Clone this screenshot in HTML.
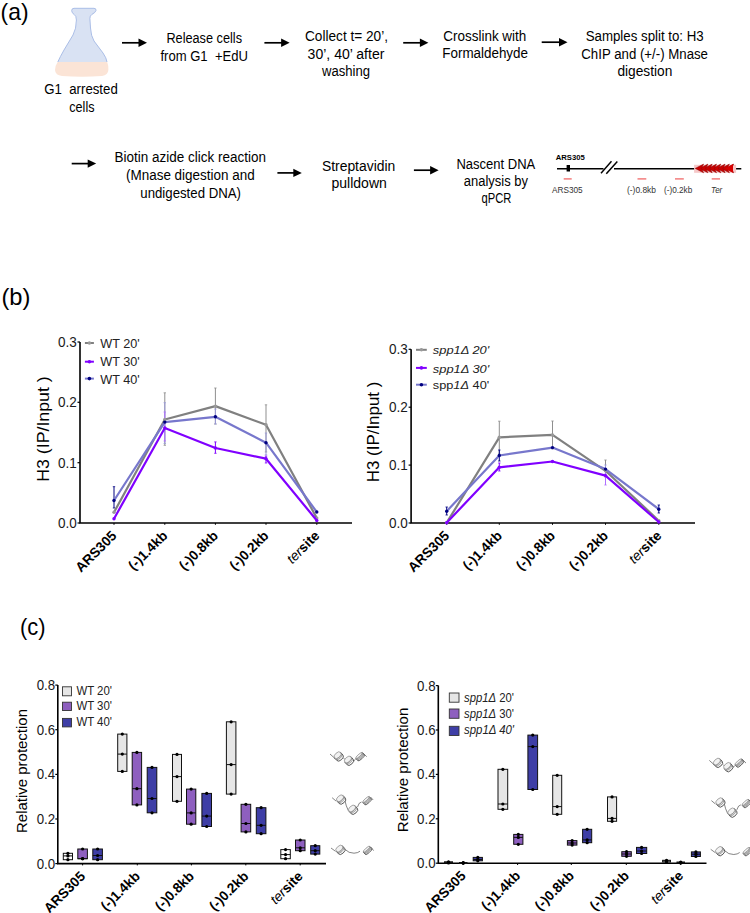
<!DOCTYPE html>
<html><head><meta charset="utf-8"><style>
html,body{margin:0;padding:0;background:#fff;}
svg{display:block;font-family:"Liberation Sans", sans-serif;}
</style></head><body>
<svg width="750" height="913" viewBox="0 0 750 913">
<text x="0.6" y="20.2" font-size="24" textLength="28" lengthAdjust="spacingAndGlyphs" fill="#000">(a)</text>
<path d="M74 8.3 L94 8.3 Q96.3 8.3 96 10.5 Q95.5 12.5 91.8 14.5 Q89.8 15.7 89.9 18.5 L90.5 28 Q91 36 94 41 L103 53 Q106.5 58 107 62 L57.8 62 Q60 57 64 50 L73 35 Q76.3 29 76.4 20 Q76.4 15.7 74 14.3 Q71.5 12.7 71.7 10.5 Q71.8 8.3 74 8.3 Z" fill="#d9e2f3"/>
<path d="M107 62 Q106.5 58 103 53 L94 41 Q91 36 90.5 28 L89.9 18.5 Q89.8 15.7 91.8 14.5 Q95.5 12.5 96 10.5 Q96.3 8.3 94 8.3 L74 8.3 Q71.8 8.3 71.7 10.5 Q71.5 12.7 74 14.3 Q76.4 15.7 76.4 20 Q76.3 29 73 35 L64 50 Q60 57 57.8 62" fill="none" stroke="#a3b8e4" stroke-width="0.9"/>
<path d="M57.6 62 L107.2 62 Q108.7 66 108.4 70 Q108 75 102 76 Q82 77.6 62 76 Q55.3 75.3 55 70 Q55 66 57.6 62 Z" fill="#fbe4d6"/>
<text x="44.2" y="93.6" font-size="14" textLength="73.6" lengthAdjust="spacingAndGlyphs" fill="#000">G1&#160;&#160;arrested</text>
<text x="69.3" y="111.5" font-size="14" textLength="25.2" lengthAdjust="spacingAndGlyphs" fill="#000">cells</text>
<text x="166.4" y="43.3" font-size="14" textLength="75.6" lengthAdjust="spacingAndGlyphs" fill="#000">Release cells</text>
<text x="160.4" y="60.8" font-size="14" textLength="87.6" lengthAdjust="spacingAndGlyphs" fill="#000">from G1&#160;&#160;+EdU</text>
<text x="305" y="41" font-size="14" textLength="83" lengthAdjust="spacingAndGlyphs" fill="#000">Collect t= 20’,</text>
<text x="307.6" y="58.9" font-size="14" textLength="76.8" lengthAdjust="spacingAndGlyphs" fill="#000">30’, 40’ after</text>
<text x="322" y="75.7" font-size="14" textLength="48" lengthAdjust="spacingAndGlyphs" fill="#000">washing</text>
<text x="443.3" y="41" font-size="14" textLength="83.0" lengthAdjust="spacingAndGlyphs" fill="#000">Crosslink with</text>
<text x="442.3" y="58.4" font-size="14" textLength="85.7" lengthAdjust="spacingAndGlyphs" fill="#000">Formaldehyde</text>
<text x="585.7" y="41.1" font-size="14" textLength="118.0" lengthAdjust="spacingAndGlyphs" fill="#000">Samples split to: H3</text>
<text x="581.3" y="59" font-size="14" textLength="126.7" lengthAdjust="spacingAndGlyphs" fill="#000">ChIP and (+/-) Mnase</text>
<text x="617.4" y="75.7" font-size="14" textLength="54.9" lengthAdjust="spacingAndGlyphs" fill="#000">digestion</text>
<text x="114.6" y="162" font-size="14" textLength="151.4" lengthAdjust="spacingAndGlyphs" fill="#000">Biotin azide click reaction</text>
<text x="126" y="179.9" font-size="14" textLength="128.7" lengthAdjust="spacingAndGlyphs" fill="#000">(Mnase digestion and</text>
<text x="140.3" y="197.7" font-size="14" textLength="100.7" lengthAdjust="spacingAndGlyphs" fill="#000">undigested DNA)</text>
<text x="321.9" y="171" font-size="14" textLength="73.4" lengthAdjust="spacingAndGlyphs" fill="#000">Streptavidin</text>
<text x="331.5" y="188.3" font-size="14" textLength="55.3" lengthAdjust="spacingAndGlyphs" fill="#000">pulldown</text>
<text x="456.4" y="169" font-size="14" textLength="78.9" lengthAdjust="spacingAndGlyphs" fill="#000">Nascent DNA</text>
<text x="463.8" y="185.6" font-size="14" textLength="64.2" lengthAdjust="spacingAndGlyphs" fill="#000">analysis by</text>
<text x="481.6" y="202.6" font-size="14" textLength="29.8" lengthAdjust="spacingAndGlyphs" fill="#000">qPCR</text>
<line x1="122" y1="42.8" x2="140" y2="42.8" stroke="#000" stroke-width="1.7"/>
<path d="M138.5 38.599999999999994 L147 42.8 L138.5 47.0 Z" fill="#000"/>
<line x1="264.4" y1="42.8" x2="282.6" y2="42.8" stroke="#000" stroke-width="1.7"/>
<path d="M281.1 38.599999999999994 L289.6 42.8 L281.1 47.0 Z" fill="#000"/>
<line x1="403.2" y1="42.8" x2="421.4" y2="42.8" stroke="#000" stroke-width="1.7"/>
<path d="M419.9 38.599999999999994 L428.4 42.8 L419.9 47.0 Z" fill="#000"/>
<line x1="541.7" y1="42.2" x2="560.5" y2="42.2" stroke="#000" stroke-width="1.7"/>
<path d="M559.0 38.0 L567.5 42.2 L559.0 46.400000000000006 Z" fill="#000"/>
<line x1="71.7" y1="163.6" x2="89.2" y2="163.6" stroke="#000" stroke-width="1.7"/>
<path d="M87.7 159.4 L96.2 163.6 L87.7 167.79999999999998 Z" fill="#000"/>
<line x1="277.4" y1="172.9" x2="294.8" y2="172.9" stroke="#000" stroke-width="1.7"/>
<path d="M293.3 168.70000000000002 L301.8 172.9 L293.3 177.1 Z" fill="#000"/>
<line x1="413.9" y1="170.2" x2="431.6" y2="170.2" stroke="#000" stroke-width="1.7"/>
<path d="M430.1 166.0 L438.6 170.2 L430.1 174.39999999999998 Z" fill="#000"/>
<line x1="557" y1="168.7" x2="603.5" y2="168.7" stroke="#000" stroke-width="1.6"/>
<line x1="614" y1="168.7" x2="741.3" y2="168.7" stroke="#000" stroke-width="1.6"/>
<rect x="566.6" y="165" width="3.4" height="6.5" fill="#000"/>
<line x1="601" y1="173.2" x2="611.5" y2="161.3" stroke="#000" stroke-width="1.5"/>
<line x1="606.3" y1="173.8" x2="617.3" y2="161.6" stroke="#000" stroke-width="1.5"/>
<text x="555.7" y="160.2" font-size="7.2" font-weight="bold" textLength="29" lengthAdjust="spacingAndGlyphs" fill="#000">ARS305</text>
<rect x="694.1" y="164.8" width="42" height="8" fill="#f6c8c8"/>
<path d="M725.3 168.4 L733.7 164.1 L731.5 168.4 L733.7 172.8 Z" fill="#c80000" stroke="#8a0000" stroke-width="0.5" stroke-linejoin="round"/><path d="M721.0 168.4 L729.4 164.1 L727.2 168.4 L729.4 172.8 Z" fill="#c80000" stroke="#8a0000" stroke-width="0.5" stroke-linejoin="round"/><path d="M716.7 168.4 L725.1 164.1 L722.9 168.4 L725.1 172.8 Z" fill="#c80000" stroke="#8a0000" stroke-width="0.5" stroke-linejoin="round"/><path d="M712.4 168.4 L720.8 164.1 L718.6 168.4 L720.8 172.8 Z" fill="#c80000" stroke="#8a0000" stroke-width="0.5" stroke-linejoin="round"/><path d="M708.1 168.4 L716.5 164.1 L714.3 168.4 L716.5 172.8 Z" fill="#c80000" stroke="#8a0000" stroke-width="0.5" stroke-linejoin="round"/><path d="M703.8 168.4 L712.2 164.1 L710.0 168.4 L712.2 172.8 Z" fill="#c80000" stroke="#8a0000" stroke-width="0.5" stroke-linejoin="round"/><path d="M699.5 168.4 L707.9 164.1 L705.7 168.4 L707.9 172.8 Z" fill="#c80000" stroke="#8a0000" stroke-width="0.5" stroke-linejoin="round"/><path d="M695.2 168.4 L703.6 164.1 L701.4 168.4 L703.6 172.8 Z" fill="#c80000" stroke="#8a0000" stroke-width="0.5" stroke-linejoin="round"/>
<path d="M725.5 168.4 L733 164 L733 172.8 Z" fill="#d60000"/>
<line x1="563.7" y1="178.9" x2="571.7" y2="178.9" stroke="#f27474" stroke-width="1.4"/>
<line x1="637.5" y1="178.9" x2="646.3" y2="178.9" stroke="#f27474" stroke-width="1.4"/>
<line x1="675" y1="178.9" x2="683.8" y2="178.9" stroke="#f27474" stroke-width="1.4"/>
<line x1="711.7" y1="178.9" x2="720" y2="178.9" stroke="#f27474" stroke-width="1.4"/>
<text x="552" y="193" font-size="8.3" textLength="30.7" lengthAdjust="spacingAndGlyphs" fill="#333">ARS305</text>
<text x="627" y="193" font-size="8.3" textLength="29" lengthAdjust="spacingAndGlyphs" fill="#333">(-)0.8kb</text>
<text x="664" y="193" font-size="8.3" textLength="28.3" lengthAdjust="spacingAndGlyphs" fill="#333">(-)0.2kb</text>
<text x="711" y="193" font-size="8.3" font-style="italic" textLength="11.3" lengthAdjust="spacingAndGlyphs" fill="#333">Ter</text>
<text x="1.4" y="305.2" font-size="24" textLength="29" lengthAdjust="spacingAndGlyphs" fill="#000">(b)</text>
<path d="M80 342 L80 523 L352 523" fill="none" stroke="#000" stroke-width="1.6"/>
<line x1="77.5" y1="523.0" x2="80" y2="523.0" stroke="#000" stroke-width="1.2"/>
<text x="76.8" y="528.1" font-size="14.3" text-anchor="end" textLength="18.8" lengthAdjust="spacingAndGlyphs" fill="#1a1a1a">0.0</text>
<line x1="77.5" y1="462.7" x2="80" y2="462.7" stroke="#000" stroke-width="1.2"/>
<text x="76.8" y="467.8" font-size="14.3" text-anchor="end" textLength="18.8" lengthAdjust="spacingAndGlyphs" fill="#1a1a1a">0.1</text>
<line x1="77.5" y1="402.3" x2="80" y2="402.3" stroke="#000" stroke-width="1.2"/>
<text x="76.8" y="407.4" font-size="14.3" text-anchor="end" textLength="18.8" lengthAdjust="spacingAndGlyphs" fill="#1a1a1a">0.2</text>
<line x1="77.5" y1="342.0" x2="80" y2="342.0" stroke="#000" stroke-width="1.2"/>
<text x="76.8" y="347.1" font-size="14.3" text-anchor="end" textLength="18.8" lengthAdjust="spacingAndGlyphs" fill="#1a1a1a">0.3</text>
<line x1="114" y1="523" x2="114" y2="524.8" stroke="#000" stroke-width="1"/>
<line x1="164.8" y1="523" x2="164.8" y2="524.8" stroke="#000" stroke-width="1"/>
<line x1="215.4" y1="523" x2="215.4" y2="524.8" stroke="#000" stroke-width="1"/>
<line x1="266" y1="523" x2="266" y2="524.8" stroke="#000" stroke-width="1"/>
<line x1="316.8" y1="523" x2="316.8" y2="524.8" stroke="#000" stroke-width="1"/>
<line x1="164.8" y1="392.8" x2="164.8" y2="445.3" stroke="#8f8f8f" stroke-width="1"/>
<line x1="163.60000000000002" y1="392.8" x2="166.0" y2="392.8" stroke="#8f8f8f" stroke-width="0.8"/>
<line x1="163.60000000000002" y1="445.3" x2="166.0" y2="445.3" stroke="#8f8f8f" stroke-width="0.8"/>
<line x1="215.4" y1="388" x2="215.4" y2="424" stroke="#8f8f8f" stroke-width="1"/>
<line x1="214.20000000000002" y1="388" x2="216.6" y2="388" stroke="#8f8f8f" stroke-width="0.8"/>
<line x1="214.20000000000002" y1="424" x2="216.6" y2="424" stroke="#8f8f8f" stroke-width="0.8"/>
<line x1="266" y1="404.8" x2="266" y2="452" stroke="#8f8f8f" stroke-width="1"/>
<line x1="264.8" y1="404.8" x2="267.2" y2="404.8" stroke="#8f8f8f" stroke-width="0.8"/>
<line x1="264.8" y1="452" x2="267.2" y2="452" stroke="#8f8f8f" stroke-width="0.8"/>
<line x1="164.8" y1="402.7" x2="164.8" y2="443.5" stroke="#9a9ad8" stroke-width="1"/>
<line x1="163.60000000000002" y1="402.7" x2="166.0" y2="402.7" stroke="#9a9ad8" stroke-width="0.8"/>
<line x1="163.60000000000002" y1="443.5" x2="166.0" y2="443.5" stroke="#9a9ad8" stroke-width="0.8"/>
<line x1="215.4" y1="409" x2="215.4" y2="424" stroke="#9a9ad8" stroke-width="1"/>
<line x1="214.20000000000002" y1="409" x2="216.6" y2="409" stroke="#9a9ad8" stroke-width="0.8"/>
<line x1="214.20000000000002" y1="424" x2="216.6" y2="424" stroke="#9a9ad8" stroke-width="0.8"/>
<line x1="266" y1="433" x2="266" y2="454.7" stroke="#9a9ad8" stroke-width="1"/>
<line x1="264.8" y1="433" x2="267.2" y2="433" stroke="#9a9ad8" stroke-width="0.8"/>
<line x1="264.8" y1="454.7" x2="267.2" y2="454.7" stroke="#9a9ad8" stroke-width="0.8"/>
<line x1="114" y1="486.7" x2="114" y2="508" stroke="#000080" stroke-width="1"/>
<line x1="112.8" y1="486.7" x2="115.2" y2="486.7" stroke="#000080" stroke-width="0.8"/>
<line x1="112.8" y1="508" x2="115.2" y2="508" stroke="#000080" stroke-width="0.8"/>
<line x1="164.8" y1="412" x2="164.8" y2="441" stroke="#b070ff" stroke-width="1"/>
<line x1="163.60000000000002" y1="412" x2="166.0" y2="412" stroke="#b070ff" stroke-width="0.8"/>
<line x1="163.60000000000002" y1="441" x2="166.0" y2="441" stroke="#b070ff" stroke-width="0.8"/>
<line x1="215.4" y1="441.9" x2="215.4" y2="453.3" stroke="#8000ff" stroke-width="1"/>
<line x1="214.20000000000002" y1="441.9" x2="216.6" y2="441.9" stroke="#8000ff" stroke-width="0.8"/>
<line x1="214.20000000000002" y1="453.3" x2="216.6" y2="453.3" stroke="#8000ff" stroke-width="0.8"/>
<line x1="266" y1="456" x2="266" y2="463" stroke="#8000ff" stroke-width="1"/>
<line x1="264.8" y1="456" x2="267.2" y2="456" stroke="#8000ff" stroke-width="0.8"/>
<line x1="264.8" y1="463" x2="267.2" y2="463" stroke="#8000ff" stroke-width="0.8"/>
<polyline points="114,512.3 164.8,419.5 215.4,406.1 266,424.8 316.8,518.1" fill="none" stroke="#808080" stroke-width="2.2" stroke-linejoin="round"/>
<circle cx="114" cy="512.3" r="1.7" fill="#999999"/>
<circle cx="164.8" cy="419.5" r="1.7" fill="#999999"/>
<circle cx="215.4" cy="406.1" r="1.7" fill="#999999"/>
<circle cx="266" cy="424.8" r="1.7" fill="#999999"/>
<circle cx="316.8" cy="518.1" r="1.7" fill="#999999"/>
<polyline points="114,500.5 164.8,422.1 215.4,416.8 266,442.7 316.8,512" fill="none" stroke="#7777cc" stroke-width="2.2" stroke-linejoin="round"/>
<circle cx="114" cy="500.5" r="1.7" fill="#000080"/>
<circle cx="164.8" cy="422.1" r="1.7" fill="#000080"/>
<circle cx="215.4" cy="416.8" r="1.7" fill="#000080"/>
<circle cx="266" cy="442.7" r="1.7" fill="#000080"/>
<circle cx="316.8" cy="512" r="1.7" fill="#000080"/>
<polyline points="114,518.7 164.8,428 215.4,448 266,458.7 316.8,520.5" fill="none" stroke="#8000ff" stroke-width="2.2" stroke-linejoin="round"/>
<circle cx="114" cy="518.7" r="1.7" fill="#8000ff"/>
<circle cx="164.8" cy="428" r="1.7" fill="#8000ff"/>
<circle cx="215.4" cy="448" r="1.7" fill="#8000ff"/>
<circle cx="266" cy="458.7" r="1.7" fill="#8000ff"/>
<circle cx="316.8" cy="520.5" r="1.7" fill="#8000ff"/>
<text transform="translate(117.5,536.5) rotate(-45)" text-anchor="end" font-size="13.7" font-weight="bold">ARS305</text>
<text transform="translate(168.3,536.5) rotate(-45)" text-anchor="end" font-size="13.7" font-weight="bold">(-)1.4kb</text>
<text transform="translate(218.9,536.5) rotate(-45)" text-anchor="end" font-size="13.7" font-weight="bold">(-)0.8kb</text>
<text transform="translate(269.5,536.5) rotate(-45)" text-anchor="end" font-size="13.7" font-weight="bold">(-)0.2kb</text>
<text transform="translate(320.3,536.5) rotate(-45)" text-anchor="end" font-size="13.7" font-weight="bold"><tspan font-style="italic" font-weight="normal">ter</tspan>site</text>
<text transform="translate(49,481.8) rotate(-90)" font-size="16.8" textLength="105.5" lengthAdjust="spacingAndGlyphs">H3 (IP/Input )</text>
<line x1="84.9" y1="343" x2="93.9" y2="343" stroke="#808080" stroke-width="2"/>
<circle cx="89.4" cy="343" r="1.8" fill="#999999"/>
<line x1="84.9" y1="361.7" x2="93.9" y2="361.7" stroke="#8000ff" stroke-width="2"/>
<circle cx="89.4" cy="361.7" r="1.8" fill="#8000ff"/>
<line x1="84.9" y1="378.6" x2="93.9" y2="378.6" stroke="#7777cc" stroke-width="2"/>
<circle cx="89.4" cy="378.6" r="1.8" fill="#000080"/>
<text x="100.3" y="347.8" font-size="12.6" textLength="39.4" lengthAdjust="spacingAndGlyphs" fill="#222">WT 20'</text>
<text x="100.3" y="366.4" font-size="12.6" textLength="39.4" lengthAdjust="spacingAndGlyphs" fill="#222">WT 30'</text>
<text x="100.3" y="383.5" font-size="12.6" textLength="39.4" lengthAdjust="spacingAndGlyphs" fill="#222">WT 40'</text>
<path d="M411.1 349.3 L411.1 523 L695 523" fill="none" stroke="#000" stroke-width="1.6"/>
<line x1="408.6" y1="523.0" x2="411.1" y2="523.0" stroke="#000" stroke-width="1.2"/>
<text x="407.8" y="528.1" font-size="14.3" text-anchor="end" textLength="18.8" lengthAdjust="spacingAndGlyphs" fill="#1a1a1a">0.0</text>
<line x1="408.6" y1="465.1" x2="411.1" y2="465.1" stroke="#000" stroke-width="1.2"/>
<text x="407.8" y="470.2" font-size="14.3" text-anchor="end" textLength="18.8" lengthAdjust="spacingAndGlyphs" fill="#1a1a1a">0.1</text>
<line x1="408.6" y1="407.2" x2="411.1" y2="407.2" stroke="#000" stroke-width="1.2"/>
<text x="407.8" y="412.3" font-size="14.3" text-anchor="end" textLength="18.8" lengthAdjust="spacingAndGlyphs" fill="#1a1a1a">0.2</text>
<line x1="408.6" y1="349.3" x2="411.1" y2="349.3" stroke="#000" stroke-width="1.2"/>
<text x="407.8" y="354.4" font-size="14.3" text-anchor="end" textLength="18.8" lengthAdjust="spacingAndGlyphs" fill="#1a1a1a">0.3</text>
<line x1="446.7" y1="523" x2="446.7" y2="524.8" stroke="#000" stroke-width="1"/>
<line x1="499.3" y1="523" x2="499.3" y2="524.8" stroke="#000" stroke-width="1"/>
<line x1="552.5" y1="523" x2="552.5" y2="524.8" stroke="#000" stroke-width="1"/>
<line x1="605.5" y1="523" x2="605.5" y2="524.8" stroke="#000" stroke-width="1"/>
<line x1="658.8" y1="523" x2="658.8" y2="524.8" stroke="#000" stroke-width="1"/>
<line x1="499.3" y1="421.2" x2="499.3" y2="454" stroke="#8f8f8f" stroke-width="1"/>
<line x1="498.1" y1="421.2" x2="500.5" y2="421.2" stroke="#8f8f8f" stroke-width="0.8"/>
<line x1="498.1" y1="454" x2="500.5" y2="454" stroke="#8f8f8f" stroke-width="0.8"/>
<line x1="552.5" y1="421" x2="552.5" y2="449" stroke="#8f8f8f" stroke-width="1"/>
<line x1="551.3" y1="421" x2="553.7" y2="421" stroke="#8f8f8f" stroke-width="0.8"/>
<line x1="551.3" y1="449" x2="553.7" y2="449" stroke="#8f8f8f" stroke-width="0.8"/>
<line x1="605.5" y1="460" x2="605.5" y2="477" stroke="#8f8f8f" stroke-width="1"/>
<line x1="604.3" y1="460" x2="606.7" y2="460" stroke="#8f8f8f" stroke-width="0.8"/>
<line x1="604.3" y1="477" x2="606.7" y2="477" stroke="#8f8f8f" stroke-width="0.8"/>
<line x1="446.7" y1="507" x2="446.7" y2="515" stroke="#000080" stroke-width="1"/>
<line x1="445.5" y1="507" x2="447.9" y2="507" stroke="#000080" stroke-width="0.8"/>
<line x1="445.5" y1="515" x2="447.9" y2="515" stroke="#000080" stroke-width="0.8"/>
<line x1="499.3" y1="450" x2="499.3" y2="461" stroke="#000080" stroke-width="1"/>
<line x1="498.1" y1="450" x2="500.5" y2="450" stroke="#000080" stroke-width="0.8"/>
<line x1="498.1" y1="461" x2="500.5" y2="461" stroke="#000080" stroke-width="0.8"/>
<line x1="605.5" y1="465" x2="605.5" y2="474" stroke="#9a9ad8" stroke-width="1"/>
<line x1="604.3" y1="465" x2="606.7" y2="465" stroke="#9a9ad8" stroke-width="0.8"/>
<line x1="604.3" y1="474" x2="606.7" y2="474" stroke="#9a9ad8" stroke-width="0.8"/>
<line x1="658.8" y1="505" x2="658.8" y2="513" stroke="#000080" stroke-width="1"/>
<line x1="657.5999999999999" y1="505" x2="660.0" y2="505" stroke="#000080" stroke-width="0.8"/>
<line x1="657.5999999999999" y1="513" x2="660.0" y2="513" stroke="#000080" stroke-width="0.8"/>
<line x1="499.3" y1="463" x2="499.3" y2="471" stroke="#8000ff" stroke-width="1"/>
<line x1="498.1" y1="463" x2="500.5" y2="463" stroke="#8000ff" stroke-width="0.8"/>
<line x1="498.1" y1="471" x2="500.5" y2="471" stroke="#8000ff" stroke-width="0.8"/>
<line x1="605.5" y1="470" x2="605.5" y2="485" stroke="#b070ff" stroke-width="1"/>
<line x1="604.3" y1="470" x2="606.7" y2="470" stroke="#b070ff" stroke-width="0.8"/>
<line x1="604.3" y1="485" x2="606.7" y2="485" stroke="#b070ff" stroke-width="0.8"/>
<polyline points="446.7,522.7 499.3,437.3 552.5,434.9 605.5,470.8 658.8,520.7" fill="none" stroke="#808080" stroke-width="2.2" stroke-linejoin="round"/>
<circle cx="446.7" cy="522.7" r="1.7" fill="#999999"/>
<circle cx="499.3" cy="437.3" r="1.7" fill="#999999"/>
<circle cx="552.5" cy="434.9" r="1.7" fill="#999999"/>
<circle cx="605.5" cy="470.8" r="1.7" fill="#999999"/>
<circle cx="658.8" cy="520.7" r="1.7" fill="#999999"/>
<polyline points="446.7,511.2 499.3,455.5 552.5,447.6 605.5,469.1 658.8,509.2" fill="none" stroke="#7777cc" stroke-width="2.2" stroke-linejoin="round"/>
<circle cx="446.7" cy="511.2" r="1.7" fill="#000080"/>
<circle cx="499.3" cy="455.5" r="1.7" fill="#000080"/>
<circle cx="552.5" cy="447.6" r="1.7" fill="#000080"/>
<circle cx="605.5" cy="469.1" r="1.7" fill="#000080"/>
<circle cx="658.8" cy="509.2" r="1.7" fill="#000080"/>
<polyline points="446.7,522.7 499.3,467.3 552.5,461.5 605.5,475.6 658.8,522" fill="none" stroke="#8000ff" stroke-width="2.2" stroke-linejoin="round"/>
<circle cx="446.7" cy="522.7" r="1.7" fill="#8000ff"/>
<circle cx="499.3" cy="467.3" r="1.7" fill="#8000ff"/>
<circle cx="552.5" cy="461.5" r="1.7" fill="#8000ff"/>
<circle cx="605.5" cy="475.6" r="1.7" fill="#8000ff"/>
<circle cx="658.8" cy="522" r="1.7" fill="#8000ff"/>
<text transform="translate(450.2,536.5) rotate(-45)" text-anchor="end" font-size="13.7" font-weight="bold">ARS305</text>
<text transform="translate(502.8,536.5) rotate(-45)" text-anchor="end" font-size="13.7" font-weight="bold">(-)1.4kb</text>
<text transform="translate(556.0,536.5) rotate(-45)" text-anchor="end" font-size="13.7" font-weight="bold">(-)0.8kb</text>
<text transform="translate(609.0,536.5) rotate(-45)" text-anchor="end" font-size="13.7" font-weight="bold">(-)0.2kb</text>
<text transform="translate(662.3,536.5) rotate(-45)" text-anchor="end" font-size="13.7" font-weight="bold"><tspan font-style="italic" font-weight="normal">ter</tspan>site</text>
<text transform="translate(379,482.2) rotate(-90)" font-size="16.5" textLength="100.5" lengthAdjust="spacingAndGlyphs">H3 (IP/Input )</text>
<line x1="416" y1="349.8" x2="426.8" y2="349.8" stroke="#808080" stroke-width="2"/>
<circle cx="421.4" cy="349.8" r="1.8" fill="#999999"/>
<line x1="416" y1="367.9" x2="426.8" y2="367.9" stroke="#8000ff" stroke-width="2"/>
<circle cx="421.4" cy="367.9" r="1.8" fill="#8000ff"/>
<line x1="416" y1="384.7" x2="426.8" y2="384.7" stroke="#7777cc" stroke-width="2"/>
<circle cx="421.4" cy="384.7" r="1.8" fill="#000080"/>
<text x="432.8" y="354" font-size="11.7" textLength="56.4" lengthAdjust="spacingAndGlyphs" fill="#222"><tspan font-style="italic">spp1Δ 20'</tspan></text>
<text x="432.8" y="373.2" font-size="11.7" textLength="56.4" lengthAdjust="spacingAndGlyphs" fill="#222"><tspan font-style="italic">spp1Δ 30'</tspan></text>
<text x="432.8" y="388.8" font-size="11.7" textLength="56.4" lengthAdjust="spacingAndGlyphs" fill="#222">spp<tspan font-style="italic">1Δ</tspan> 40'</text>
<text x="20" y="635.2" font-size="24" textLength="25.5" lengthAdjust="spacingAndGlyphs" fill="#000">(c)</text>
<path d="M57.8 685.1 L57.8 863.6 L326 863.6" fill="none" stroke="#000" stroke-width="1.6"/>
<line x1="55.3" y1="863.6" x2="57.8" y2="863.6" stroke="#000" stroke-width="1.2"/>
<text x="55.2" y="868.6" font-size="14.4" text-anchor="end" textLength="18.5" lengthAdjust="spacingAndGlyphs" fill="#1a1a1a">0.0</text>
<line x1="55.3" y1="819.0" x2="57.8" y2="819.0" stroke="#000" stroke-width="1.2"/>
<text x="55.2" y="824.0" font-size="14.4" text-anchor="end" textLength="18.5" lengthAdjust="spacingAndGlyphs" fill="#1a1a1a">0.2</text>
<line x1="55.3" y1="774.4" x2="57.8" y2="774.4" stroke="#000" stroke-width="1.2"/>
<text x="55.2" y="779.4" font-size="14.4" text-anchor="end" textLength="18.5" lengthAdjust="spacingAndGlyphs" fill="#1a1a1a">0.4</text>
<line x1="55.3" y1="729.7" x2="57.8" y2="729.7" stroke="#000" stroke-width="1.2"/>
<text x="55.2" y="734.7" font-size="14.4" text-anchor="end" textLength="18.5" lengthAdjust="spacingAndGlyphs" fill="#1a1a1a">0.6</text>
<line x1="55.3" y1="685.1" x2="57.8" y2="685.1" stroke="#000" stroke-width="1.2"/>
<text x="55.2" y="690.1" font-size="14.4" text-anchor="end" textLength="18.5" lengthAdjust="spacingAndGlyphs" fill="#1a1a1a">0.8</text>
<line x1="82.6" y1="863.6" x2="82.6" y2="865.4" stroke="#000" stroke-width="1"/>
<line x1="137.3" y1="863.6" x2="137.3" y2="865.4" stroke="#000" stroke-width="1"/>
<line x1="191.4" y1="863.6" x2="191.4" y2="865.4" stroke="#000" stroke-width="1"/>
<line x1="245.8" y1="863.6" x2="245.8" y2="865.4" stroke="#000" stroke-width="1"/>
<line x1="300.2" y1="863.6" x2="300.2" y2="865.4" stroke="#000" stroke-width="1"/>
<rect x="63.3" y="853.3" width="9.200000000000003" height="6.400000000000091" fill="#ffffff" stroke="#111" stroke-width="1"/>
<line x1="63.3" y1="855.9" x2="72.5" y2="855.9" stroke="#111" stroke-width="1"/>
<circle cx="67.9" cy="853.3" r="1.6" fill="#000"/>
<circle cx="67.9" cy="855.9" r="1.6" fill="#000"/>
<circle cx="67.9" cy="859.7" r="1.6" fill="#000"/>
<rect x="77.8" y="849" width="9.600000000000009" height="9.700000000000045" fill="#8e5fbf" stroke="#111" stroke-width="1"/>
<line x1="77.8" y1="858.7" x2="87.4" y2="858.7" stroke="#111" stroke-width="1"/>
<circle cx="82.6" cy="849" r="1.6" fill="#000"/>
<circle cx="82.6" cy="858.7" r="1.6" fill="#000"/>
<circle cx="82.6" cy="858.7" r="1.6" fill="#000"/>
<rect x="92.8" y="849" width="9.600000000000009" height="10.700000000000045" fill="#3e3ea6" stroke="#111" stroke-width="1"/>
<line x1="92.8" y1="855.5" x2="102.4" y2="855.5" stroke="#111" stroke-width="1"/>
<circle cx="97.6" cy="849" r="1.6" fill="#000"/>
<circle cx="97.6" cy="855.5" r="1.6" fill="#000"/>
<circle cx="97.6" cy="859.7" r="1.6" fill="#000"/>
<rect x="117.7" y="734.1" width="9.200000000000003" height="37.299999999999955" fill="#e6e6e6" stroke="#111" stroke-width="1"/>
<line x1="117.7" y1="754.1" x2="126.9" y2="754.1" stroke="#111" stroke-width="1"/>
<circle cx="122.30000000000001" cy="734.1" r="1.6" fill="#000"/>
<circle cx="122.30000000000001" cy="754.1" r="1.6" fill="#000"/>
<circle cx="122.30000000000001" cy="771.4" r="1.6" fill="#000"/>
<rect x="132.2" y="752.4" width="9.400000000000006" height="52.5" fill="#8e5fbf" stroke="#111" stroke-width="1"/>
<line x1="132.2" y1="788.7" x2="141.6" y2="788.7" stroke="#111" stroke-width="1"/>
<circle cx="136.89999999999998" cy="752.4" r="1.6" fill="#000"/>
<circle cx="136.89999999999998" cy="788.7" r="1.6" fill="#000"/>
<circle cx="136.89999999999998" cy="804.9" r="1.6" fill="#000"/>
<rect x="147.2" y="767.4" width="9.600000000000023" height="45.39999999999998" fill="#3e3ea6" stroke="#111" stroke-width="1"/>
<line x1="147.2" y1="798.5" x2="156.8" y2="798.5" stroke="#111" stroke-width="1"/>
<circle cx="152.0" cy="767.4" r="1.6" fill="#000"/>
<circle cx="152.0" cy="798.5" r="1.6" fill="#000"/>
<circle cx="152.0" cy="812.8" r="1.6" fill="#000"/>
<rect x="172.5" y="754.4" width="9.0" height="46.89999999999998" fill="#e6e6e6" stroke="#111" stroke-width="1"/>
<line x1="172.5" y1="776.6" x2="181.5" y2="776.6" stroke="#111" stroke-width="1"/>
<circle cx="177.0" cy="754.4" r="1.6" fill="#000"/>
<circle cx="177.0" cy="776.6" r="1.6" fill="#000"/>
<circle cx="177.0" cy="801.3" r="1.6" fill="#000"/>
<rect x="186.5" y="789.1" width="9.300000000000011" height="35.10000000000002" fill="#8e5fbf" stroke="#111" stroke-width="1"/>
<line x1="186.5" y1="812.9" x2="195.8" y2="812.9" stroke="#111" stroke-width="1"/>
<circle cx="191.15" cy="789.1" r="1.6" fill="#000"/>
<circle cx="191.15" cy="812.9" r="1.6" fill="#000"/>
<circle cx="191.15" cy="824.2" r="1.6" fill="#000"/>
<rect x="201.9" y="793.4" width="9.599999999999994" height="33.10000000000002" fill="#3e3ea6" stroke="#111" stroke-width="1"/>
<line x1="201.9" y1="816.1" x2="211.5" y2="816.1" stroke="#111" stroke-width="1"/>
<circle cx="206.7" cy="793.4" r="1.6" fill="#000"/>
<circle cx="206.7" cy="816.1" r="1.6" fill="#000"/>
<circle cx="206.7" cy="826.5" r="1.6" fill="#000"/>
<rect x="226.4" y="721.8" width="9.5" height="72.30000000000007" fill="#e6e6e6" stroke="#111" stroke-width="1"/>
<line x1="226.4" y1="764.6" x2="235.9" y2="764.6" stroke="#111" stroke-width="1"/>
<circle cx="231.15" cy="721.8" r="1.6" fill="#000"/>
<circle cx="231.15" cy="764.6" r="1.6" fill="#000"/>
<circle cx="231.15" cy="794.1" r="1.6" fill="#000"/>
<rect x="241.1" y="804.3" width="9.599999999999994" height="27.600000000000023" fill="#8e5fbf" stroke="#111" stroke-width="1"/>
<line x1="241.1" y1="823.5" x2="250.7" y2="823.5" stroke="#111" stroke-width="1"/>
<circle cx="245.89999999999998" cy="804.3" r="1.6" fill="#000"/>
<circle cx="245.89999999999998" cy="823.5" r="1.6" fill="#000"/>
<circle cx="245.89999999999998" cy="831.9" r="1.6" fill="#000"/>
<rect x="256.3" y="807.7" width="9.599999999999966" height="26.0" fill="#3e3ea6" stroke="#111" stroke-width="1"/>
<line x1="256.3" y1="825.3" x2="265.9" y2="825.3" stroke="#111" stroke-width="1"/>
<circle cx="261.1" cy="807.7" r="1.6" fill="#000"/>
<circle cx="261.1" cy="825.3" r="1.6" fill="#000"/>
<circle cx="261.1" cy="833.7" r="1.6" fill="#000"/>
<rect x="280.8" y="849.6" width="9.5" height="9.100000000000023" fill="#ffffff" stroke="#111" stroke-width="1"/>
<line x1="280.8" y1="854.6" x2="290.3" y2="854.6" stroke="#111" stroke-width="1"/>
<circle cx="285.55" cy="849.6" r="1.6" fill="#000"/>
<circle cx="285.55" cy="854.6" r="1.6" fill="#000"/>
<circle cx="285.55" cy="858.7" r="1.6" fill="#000"/>
<rect x="295.5" y="840" width="9.5" height="10.700000000000045" fill="#8e5fbf" stroke="#111" stroke-width="1"/>
<line x1="295.5" y1="847.8" x2="305" y2="847.8" stroke="#111" stroke-width="1"/>
<circle cx="300.25" cy="840" r="1.6" fill="#000"/>
<circle cx="300.25" cy="847.8" r="1.6" fill="#000"/>
<circle cx="300.25" cy="850.7" r="1.6" fill="#000"/>
<rect x="310.7" y="845.7" width="9.100000000000023" height="8.399999999999977" fill="#3e3ea6" stroke="#111" stroke-width="1"/>
<line x1="310.7" y1="850.7" x2="319.8" y2="850.7" stroke="#111" stroke-width="1"/>
<circle cx="315.25" cy="845.7" r="1.6" fill="#000"/>
<circle cx="315.25" cy="850.7" r="1.6" fill="#000"/>
<circle cx="315.25" cy="854.1" r="1.6" fill="#000"/>
<text transform="translate(86.1,877.1) rotate(-45)" text-anchor="end" font-size="13.7" font-weight="bold">ARS305</text>
<text transform="translate(140.8,877.1) rotate(-45)" text-anchor="end" font-size="13.7" font-weight="bold">(-)1.4kb</text>
<text transform="translate(194.9,877.1) rotate(-45)" text-anchor="end" font-size="13.7" font-weight="bold">(-)0.8kb</text>
<text transform="translate(249.3,877.1) rotate(-45)" text-anchor="end" font-size="13.7" font-weight="bold">(-)0.2kb</text>
<text transform="translate(303.7,877.1) rotate(-45)" text-anchor="end" font-size="13.7" font-weight="bold"><tspan font-style="italic" font-weight="normal">ter</tspan>site</text>
<text transform="translate(27.3,833) rotate(-90)" font-size="14.8" textLength="124" lengthAdjust="spacingAndGlyphs">Relative protection</text>
<rect x="62.5" y="686.8" width="9" height="9" fill="#e6e6e6" stroke="#333" stroke-width="0.9"/>
<rect x="62.5" y="702.2" width="9" height="8.3" fill="#8e5fbf" stroke="#333" stroke-width="0.9"/>
<rect x="62.5" y="718.4" width="9" height="8.5" fill="#3e3ea6" stroke="#333" stroke-width="0.9"/>
<text x="76.4" y="695.3" font-size="12.3" textLength="35.6" lengthAdjust="spacingAndGlyphs" fill="#222">WT 20'</text>
<text x="76.4" y="709.8" font-size="12.3" textLength="35.6" lengthAdjust="spacingAndGlyphs" fill="#222">WT 30'</text>
<text x="76.4" y="725.8" font-size="12.3" textLength="35.6" lengthAdjust="spacingAndGlyphs" fill="#222">WT 40'</text>
<path d="M438.3 685.6 L438.3 863.2 L706.5 863.2" fill="none" stroke="#000" stroke-width="1.6"/>
<line x1="435.8" y1="863.2" x2="438.3" y2="863.2" stroke="#000" stroke-width="1.2"/>
<text x="435.6" y="868.2" font-size="14.4" text-anchor="end" textLength="18.5" lengthAdjust="spacingAndGlyphs" fill="#1a1a1a">0.0</text>
<line x1="435.8" y1="818.8" x2="438.3" y2="818.8" stroke="#000" stroke-width="1.2"/>
<text x="435.6" y="823.8" font-size="14.4" text-anchor="end" textLength="18.5" lengthAdjust="spacingAndGlyphs" fill="#1a1a1a">0.2</text>
<line x1="435.8" y1="774.4" x2="438.3" y2="774.4" stroke="#000" stroke-width="1.2"/>
<text x="435.6" y="779.4" font-size="14.4" text-anchor="end" textLength="18.5" lengthAdjust="spacingAndGlyphs" fill="#1a1a1a">0.4</text>
<line x1="435.8" y1="730.0" x2="438.3" y2="730.0" stroke="#000" stroke-width="1.2"/>
<text x="435.6" y="735.0" font-size="14.4" text-anchor="end" textLength="18.5" lengthAdjust="spacingAndGlyphs" fill="#1a1a1a">0.6</text>
<line x1="435.8" y1="685.6" x2="438.3" y2="685.6" stroke="#000" stroke-width="1.2"/>
<text x="435.6" y="690.6" font-size="14.4" text-anchor="end" textLength="18.5" lengthAdjust="spacingAndGlyphs" fill="#1a1a1a">0.8</text>
<line x1="463.1" y1="863.2" x2="463.1" y2="865.0" stroke="#000" stroke-width="1"/>
<line x1="517.6" y1="863.2" x2="517.6" y2="865.0" stroke="#000" stroke-width="1"/>
<line x1="571.3" y1="863.2" x2="571.3" y2="865.0" stroke="#000" stroke-width="1"/>
<line x1="626.3" y1="863.2" x2="626.3" y2="865.0" stroke="#000" stroke-width="1"/>
<line x1="680.7" y1="863.2" x2="680.7" y2="865.0" stroke="#000" stroke-width="1"/>
<rect x="444.5" y="861.8" width="8.0" height="1.2000000000000455" fill="#ffffff" stroke="#111" stroke-width="1"/>
<line x1="444.5" y1="862.4" x2="452.5" y2="862.4" stroke="#111" stroke-width="1"/>
<circle cx="448.5" cy="861.8" r="1.6" fill="#000"/>
<circle cx="448.5" cy="862.4" r="1.6" fill="#000"/>
<circle cx="448.5" cy="863" r="1.6" fill="#000"/>
<rect x="459.5" y="862.5" width="7.5" height="0.7000000000000455" fill="#ffffff" stroke="#111" stroke-width="1"/>
<line x1="459.5" y1="862.8" x2="467" y2="862.8" stroke="#111" stroke-width="1"/>
<circle cx="463.25" cy="862.5" r="1.6" fill="#000"/>
<circle cx="463.25" cy="862.8" r="1.6" fill="#000"/>
<circle cx="463.25" cy="863.2" r="1.6" fill="#000"/>
<rect x="473.2" y="857.4" width="9.199999999999989" height="3.3999999999999773" fill="#3e3ea6" stroke="#111" stroke-width="1"/>
<line x1="473.2" y1="859.5" x2="482.4" y2="859.5" stroke="#111" stroke-width="1"/>
<circle cx="477.79999999999995" cy="857.4" r="1.6" fill="#000"/>
<circle cx="477.79999999999995" cy="859.5" r="1.6" fill="#000"/>
<circle cx="477.79999999999995" cy="860.8" r="1.6" fill="#000"/>
<rect x="498" y="769.3" width="9.699999999999989" height="40.0" fill="#e6e6e6" stroke="#111" stroke-width="1"/>
<line x1="498" y1="804" x2="507.7" y2="804" stroke="#111" stroke-width="1"/>
<circle cx="502.85" cy="769.3" r="1.6" fill="#000"/>
<circle cx="502.85" cy="804" r="1.6" fill="#000"/>
<circle cx="502.85" cy="809.3" r="1.6" fill="#000"/>
<rect x="513.7" y="834.4" width="9.199999999999932" height="9.899999999999977" fill="#8e5fbf" stroke="#111" stroke-width="1"/>
<line x1="513.7" y1="837.4" x2="522.9" y2="837.4" stroke="#111" stroke-width="1"/>
<circle cx="518.3" cy="834.4" r="1.6" fill="#000"/>
<circle cx="518.3" cy="837.4" r="1.6" fill="#000"/>
<circle cx="518.3" cy="844.3" r="1.6" fill="#000"/>
<rect x="527.9" y="735.1" width="9.700000000000045" height="54.39999999999998" fill="#3e3ea6" stroke="#111" stroke-width="1"/>
<line x1="527.9" y1="746.6" x2="537.6" y2="746.6" stroke="#111" stroke-width="1"/>
<circle cx="532.75" cy="735.1" r="1.6" fill="#000"/>
<circle cx="532.75" cy="746.6" r="1.6" fill="#000"/>
<circle cx="532.75" cy="789.5" r="1.6" fill="#000"/>
<rect x="552.7" y="775.3" width="9.0" height="39.0" fill="#e6e6e6" stroke="#111" stroke-width="1"/>
<line x1="552.7" y1="806.6" x2="561.7" y2="806.6" stroke="#111" stroke-width="1"/>
<circle cx="557.2" cy="775.3" r="1.6" fill="#000"/>
<circle cx="557.2" cy="806.6" r="1.6" fill="#000"/>
<circle cx="557.2" cy="814.3" r="1.6" fill="#000"/>
<rect x="567.4" y="840.6" width="9.5" height="4.5" fill="#8e5fbf" stroke="#111" stroke-width="1"/>
<line x1="567.4" y1="843" x2="576.9" y2="843" stroke="#111" stroke-width="1"/>
<circle cx="572.15" cy="840.6" r="1.6" fill="#000"/>
<circle cx="572.15" cy="843" r="1.6" fill="#000"/>
<circle cx="572.15" cy="845.1" r="1.6" fill="#000"/>
<rect x="582.6" y="829.3" width="9.100000000000023" height="13.400000000000091" fill="#3e3ea6" stroke="#111" stroke-width="1"/>
<line x1="582.6" y1="839.9" x2="591.7" y2="839.9" stroke="#111" stroke-width="1"/>
<circle cx="587.1500000000001" cy="829.3" r="1.6" fill="#000"/>
<circle cx="587.1500000000001" cy="839.9" r="1.6" fill="#000"/>
<circle cx="587.1500000000001" cy="842.7" r="1.6" fill="#000"/>
<rect x="607.5" y="796.9" width="9.100000000000023" height="24.399999999999977" fill="#e6e6e6" stroke="#111" stroke-width="1"/>
<line x1="607.5" y1="818.4" x2="616.6" y2="818.4" stroke="#111" stroke-width="1"/>
<circle cx="612.05" cy="796.9" r="1.6" fill="#000"/>
<circle cx="612.05" cy="818.4" r="1.6" fill="#000"/>
<circle cx="612.05" cy="821.3" r="1.6" fill="#000"/>
<rect x="621.8" y="851.7" width="9.5" height="4.599999999999909" fill="#8e5fbf" stroke="#111" stroke-width="1"/>
<line x1="621.8" y1="854" x2="631.3" y2="854" stroke="#111" stroke-width="1"/>
<circle cx="626.55" cy="851.7" r="1.6" fill="#000"/>
<circle cx="626.55" cy="854" r="1.6" fill="#000"/>
<circle cx="626.55" cy="856.3" r="1.6" fill="#000"/>
<rect x="636.5" y="847.4" width="10.200000000000045" height="6.100000000000023" fill="#3e3ea6" stroke="#111" stroke-width="1"/>
<line x1="636.5" y1="851" x2="646.7" y2="851" stroke="#111" stroke-width="1"/>
<circle cx="641.6" cy="847.4" r="1.6" fill="#000"/>
<circle cx="641.6" cy="851" r="1.6" fill="#000"/>
<circle cx="641.6" cy="853.5" r="1.6" fill="#000"/>
<rect x="662.6" y="860.3" width="7.899999999999977" height="1.7000000000000455" fill="#ffffff" stroke="#111" stroke-width="1"/>
<line x1="662.6" y1="861" x2="670.5" y2="861" stroke="#111" stroke-width="1"/>
<circle cx="666.55" cy="860.3" r="1.6" fill="#000"/>
<circle cx="666.55" cy="861" r="1.6" fill="#000"/>
<circle cx="666.55" cy="862" r="1.6" fill="#000"/>
<rect x="677" y="862" width="7.5" height="1" fill="#ffffff" stroke="#111" stroke-width="1"/>
<line x1="677" y1="862.5" x2="684.5" y2="862.5" stroke="#111" stroke-width="1"/>
<circle cx="680.75" cy="862" r="1.6" fill="#000"/>
<circle cx="680.75" cy="862.5" r="1.6" fill="#000"/>
<circle cx="680.75" cy="863" r="1.6" fill="#000"/>
<rect x="691.4" y="851.9" width="9.0" height="4.600000000000023" fill="#3e3ea6" stroke="#111" stroke-width="1"/>
<line x1="691.4" y1="854.2" x2="700.4" y2="854.2" stroke="#111" stroke-width="1"/>
<circle cx="695.9" cy="851.9" r="1.6" fill="#000"/>
<circle cx="695.9" cy="854.2" r="1.6" fill="#000"/>
<circle cx="695.9" cy="856.5" r="1.6" fill="#000"/>
<text transform="translate(466.6,876.7) rotate(-45)" text-anchor="end" font-size="13.7" font-weight="bold">ARS305</text>
<text transform="translate(521.1,876.7) rotate(-45)" text-anchor="end" font-size="13.7" font-weight="bold">(-)1.4kb</text>
<text transform="translate(574.8,876.7) rotate(-45)" text-anchor="end" font-size="13.7" font-weight="bold">(-)0.8kb</text>
<text transform="translate(629.8,876.7) rotate(-45)" text-anchor="end" font-size="13.7" font-weight="bold">(-)0.2kb</text>
<text transform="translate(684.2,876.7) rotate(-45)" text-anchor="end" font-size="13.7" font-weight="bold"><tspan font-style="italic" font-weight="normal">ter</tspan>site</text>
<text transform="translate(407.6,832.2) rotate(-90)" font-size="14.8" textLength="124.5" lengthAdjust="spacingAndGlyphs">Relative protection</text>
<rect x="449.3" y="693" width="9.7" height="9.2" fill="#e6e6e6" stroke="#333" stroke-width="0.9"/>
<rect x="449.3" y="709" width="9.7" height="9.3" fill="#8e5fbf" stroke="#333" stroke-width="0.9"/>
<rect x="449.3" y="726.3" width="9.7" height="9.2" fill="#3e3ea6" stroke="#333" stroke-width="0.9"/>
<text x="464" y="701.5" font-size="12.3" textLength="50" lengthAdjust="spacingAndGlyphs" fill="#222"><tspan font-style="italic">spp1Δ</tspan> 20'</text>
<text x="464" y="717.8" font-size="12.3" textLength="50" lengthAdjust="spacingAndGlyphs" fill="#222"><tspan font-style="italic">spp1Δ</tspan> 30'</text>
<text x="464" y="734.4" font-size="12.3" textLength="50" lengthAdjust="spacingAndGlyphs" fill="#222"><tspan font-style="italic">spp1Δ 40'</tspan></text>
<g transform="translate(0,0)"><path d="M330 754 L335 758.5 M343.5 758 L345 759.5 M352 762 L355.5 759.5 M362.5 752.5 L366.7 756.7" stroke="#333" stroke-width="0.6" fill="none"/><g transform="translate(337.6,755.2) rotate(-42)"><path d="M-4.1 0 L-4.1 3.4 A4.1 2.5 0 0 0 4.1 3.4 L4.1 0 Z" fill="#fafafa" stroke="#333" stroke-width="0.75"/><path d="M-3.89 1.13 A4.1 2.5 0 0 0 3.89 1.13" fill="none" stroke="#666" stroke-width="0.55"/><path d="M-3.89 2.27 A4.1 2.5 0 0 0 3.89 2.27" fill="none" stroke="#666" stroke-width="0.55"/><ellipse cx="0" cy="0" rx="4.1" ry="2.5" fill="#f2f2f2" stroke="#777" stroke-width="0.6"/></g><g transform="translate(347.9,759.5) rotate(-42)"><path d="M-4.1 0 L-4.1 3.4 A4.1 2.5 0 0 0 4.1 3.4 L4.1 0 Z" fill="#fafafa" stroke="#333" stroke-width="0.75"/><path d="M-3.89 1.13 A4.1 2.5 0 0 0 3.89 1.13" fill="none" stroke="#666" stroke-width="0.55"/><path d="M-3.89 2.27 A4.1 2.5 0 0 0 3.89 2.27" fill="none" stroke="#666" stroke-width="0.55"/><ellipse cx="0" cy="0" rx="4.1" ry="2.5" fill="#f2f2f2" stroke="#777" stroke-width="0.6"/></g><g transform="translate(359,755.5) rotate(-42)"><path d="M-4.3 0 L-4.3 3.2 A4.3 1.1 0 0 0 4.3 3.2 L4.3 0 Z" fill="#fafafa" stroke="#333" stroke-width="0.75"/><path d="M-4.08 0.80 A4.3 1.1 0 0 0 4.08 0.80" fill="none" stroke="#666" stroke-width="0.55"/><path d="M-4.08 1.60 A4.3 1.1 0 0 0 4.08 1.60" fill="none" stroke="#666" stroke-width="0.55"/><path d="M-4.08 2.40 A4.3 1.1 0 0 0 4.08 2.40" fill="none" stroke="#666" stroke-width="0.55"/><ellipse cx="0" cy="0" rx="4.3" ry="1.1" fill="#f2f2f2" stroke="#777" stroke-width="0.6"/></g></g>
<g transform="translate(0,0)"><path d="M332.1 797.7 L336 801 M344.8 800.2 Q346 806 348.5 811 M357.5 807 Q359 802 361.5 802 M370.5 797 L373.2 800" stroke="#333" stroke-width="0.6" fill="none"/><g transform="translate(340,798.3) rotate(-42)"><path d="M-4.1 0 L-4.1 3.4 A4.1 2.5 0 0 0 4.1 3.4 L4.1 0 Z" fill="#fafafa" stroke="#333" stroke-width="0.75"/><path d="M-3.89 1.13 A4.1 2.5 0 0 0 3.89 1.13" fill="none" stroke="#666" stroke-width="0.55"/><path d="M-3.89 2.27 A4.1 2.5 0 0 0 3.89 2.27" fill="none" stroke="#666" stroke-width="0.55"/><ellipse cx="0" cy="0" rx="4.1" ry="2.5" fill="#f2f2f2" stroke="#777" stroke-width="0.6"/></g><g transform="translate(352,808.5) rotate(-42)"><path d="M-4.1 0 L-4.1 3.4 A4.1 2.5 0 0 0 4.1 3.4 L4.1 0 Z" fill="#fafafa" stroke="#333" stroke-width="0.75"/><path d="M-3.89 1.13 A4.1 2.5 0 0 0 3.89 1.13" fill="none" stroke="#666" stroke-width="0.55"/><path d="M-3.89 2.27 A4.1 2.5 0 0 0 3.89 2.27" fill="none" stroke="#666" stroke-width="0.55"/><ellipse cx="0" cy="0" rx="4.1" ry="2.5" fill="#f2f2f2" stroke="#777" stroke-width="0.6"/></g><g transform="translate(366,799.5) rotate(-42)"><path d="M-4.3 0 L-4.3 3.2 A4.3 1.1 0 0 0 4.3 3.2 L4.3 0 Z" fill="#fafafa" stroke="#333" stroke-width="0.75"/><path d="M-4.08 0.80 A4.3 1.1 0 0 0 4.08 0.80" fill="none" stroke="#666" stroke-width="0.55"/><path d="M-4.08 1.60 A4.3 1.1 0 0 0 4.08 1.60" fill="none" stroke="#666" stroke-width="0.55"/><path d="M-4.08 2.40 A4.3 1.1 0 0 0 4.08 2.40" fill="none" stroke="#666" stroke-width="0.55"/><ellipse cx="0" cy="0" rx="4.3" ry="1.1" fill="#f2f2f2" stroke="#777" stroke-width="0.6"/></g></g>
<g transform="translate(0,0)"><path d="M331 848 L335.5 851.3 M344.5 849 Q349 853.5 354 853.2 Q358 853 360 851.2 M371 847.2 L373.6 850.6" stroke="#333" stroke-width="0.6" fill="none"/><g transform="translate(339.3,848.6) rotate(-42)"><path d="M-4.1 0 L-4.1 3.4 A4.1 2.5 0 0 0 4.1 3.4 L4.1 0 Z" fill="#fafafa" stroke="#333" stroke-width="0.75"/><path d="M-3.89 1.13 A4.1 2.5 0 0 0 3.89 1.13" fill="none" stroke="#666" stroke-width="0.55"/><path d="M-3.89 2.27 A4.1 2.5 0 0 0 3.89 2.27" fill="none" stroke="#666" stroke-width="0.55"/><ellipse cx="0" cy="0" rx="4.1" ry="2.5" fill="#f2f2f2" stroke="#777" stroke-width="0.6"/></g><g transform="translate(366.5,849.2) rotate(-42)"><path d="M-4.3 0 L-4.3 3.2 A4.3 1.1 0 0 0 4.3 3.2 L4.3 0 Z" fill="#fafafa" stroke="#333" stroke-width="0.75"/><path d="M-4.08 0.80 A4.3 1.1 0 0 0 4.08 0.80" fill="none" stroke="#666" stroke-width="0.55"/><path d="M-4.08 1.60 A4.3 1.1 0 0 0 4.08 1.60" fill="none" stroke="#666" stroke-width="0.55"/><path d="M-4.08 2.40 A4.3 1.1 0 0 0 4.08 2.40" fill="none" stroke="#666" stroke-width="0.55"/><ellipse cx="0" cy="0" rx="4.3" ry="1.1" fill="#f2f2f2" stroke="#777" stroke-width="0.6"/></g></g>
<g transform="translate(379.3,6.4)"><path d="M330 754 L335 758.5 M343.5 758 L345 759.5 M352 762 L355.5 759.5 M362.5 752.5 L366.7 756.7" stroke="#333" stroke-width="0.6" fill="none"/><g transform="translate(337.6,755.2) rotate(-42)"><path d="M-4.1 0 L-4.1 3.4 A4.1 2.5 0 0 0 4.1 3.4 L4.1 0 Z" fill="#fafafa" stroke="#333" stroke-width="0.75"/><path d="M-3.89 1.13 A4.1 2.5 0 0 0 3.89 1.13" fill="none" stroke="#666" stroke-width="0.55"/><path d="M-3.89 2.27 A4.1 2.5 0 0 0 3.89 2.27" fill="none" stroke="#666" stroke-width="0.55"/><ellipse cx="0" cy="0" rx="4.1" ry="2.5" fill="#f2f2f2" stroke="#777" stroke-width="0.6"/></g><g transform="translate(347.9,759.5) rotate(-42)"><path d="M-4.1 0 L-4.1 3.4 A4.1 2.5 0 0 0 4.1 3.4 L4.1 0 Z" fill="#fafafa" stroke="#333" stroke-width="0.75"/><path d="M-3.89 1.13 A4.1 2.5 0 0 0 3.89 1.13" fill="none" stroke="#666" stroke-width="0.55"/><path d="M-3.89 2.27 A4.1 2.5 0 0 0 3.89 2.27" fill="none" stroke="#666" stroke-width="0.55"/><ellipse cx="0" cy="0" rx="4.1" ry="2.5" fill="#f2f2f2" stroke="#777" stroke-width="0.6"/></g><g transform="translate(359,755.5) rotate(-42)"><path d="M-4.3 0 L-4.3 3.2 A4.3 1.1 0 0 0 4.3 3.2 L4.3 0 Z" fill="#fafafa" stroke="#333" stroke-width="0.75"/><path d="M-4.08 0.80 A4.3 1.1 0 0 0 4.08 0.80" fill="none" stroke="#666" stroke-width="0.55"/><path d="M-4.08 1.60 A4.3 1.1 0 0 0 4.08 1.60" fill="none" stroke="#666" stroke-width="0.55"/><path d="M-4.08 2.40 A4.3 1.1 0 0 0 4.08 2.40" fill="none" stroke="#666" stroke-width="0.55"/><ellipse cx="0" cy="0" rx="4.3" ry="1.1" fill="#f2f2f2" stroke="#777" stroke-width="0.6"/></g></g>
<g transform="translate(379.3,2.9)"><path d="M332.1 797.7 L336 801 M344.8 800.2 Q346 806 348.5 811 M357.5 807 Q359 802 361.5 802 M370.5 797 L373.2 800" stroke="#333" stroke-width="0.6" fill="none"/><g transform="translate(340,798.3) rotate(-42)"><path d="M-4.1 0 L-4.1 3.4 A4.1 2.5 0 0 0 4.1 3.4 L4.1 0 Z" fill="#fafafa" stroke="#333" stroke-width="0.75"/><path d="M-3.89 1.13 A4.1 2.5 0 0 0 3.89 1.13" fill="none" stroke="#666" stroke-width="0.55"/><path d="M-3.89 2.27 A4.1 2.5 0 0 0 3.89 2.27" fill="none" stroke="#666" stroke-width="0.55"/><ellipse cx="0" cy="0" rx="4.1" ry="2.5" fill="#f2f2f2" stroke="#777" stroke-width="0.6"/></g><g transform="translate(352,808.5) rotate(-42)"><path d="M-4.1 0 L-4.1 3.4 A4.1 2.5 0 0 0 4.1 3.4 L4.1 0 Z" fill="#fafafa" stroke="#333" stroke-width="0.75"/><path d="M-3.89 1.13 A4.1 2.5 0 0 0 3.89 1.13" fill="none" stroke="#666" stroke-width="0.55"/><path d="M-3.89 2.27 A4.1 2.5 0 0 0 3.89 2.27" fill="none" stroke="#666" stroke-width="0.55"/><ellipse cx="0" cy="0" rx="4.1" ry="2.5" fill="#f2f2f2" stroke="#777" stroke-width="0.6"/></g><g transform="translate(366,799.5) rotate(-42)"><path d="M-4.3 0 L-4.3 3.2 A4.3 1.1 0 0 0 4.3 3.2 L4.3 0 Z" fill="#fafafa" stroke="#333" stroke-width="0.75"/><path d="M-4.08 0.80 A4.3 1.1 0 0 0 4.08 0.80" fill="none" stroke="#666" stroke-width="0.55"/><path d="M-4.08 1.60 A4.3 1.1 0 0 0 4.08 1.60" fill="none" stroke="#666" stroke-width="0.55"/><path d="M-4.08 2.40 A4.3 1.1 0 0 0 4.08 2.40" fill="none" stroke="#666" stroke-width="0.55"/><ellipse cx="0" cy="0" rx="4.3" ry="1.1" fill="#f2f2f2" stroke="#777" stroke-width="0.6"/></g></g>
<g transform="translate(379.7,1.3)"><path d="M331 848 L335.5 851.3 M344.5 849 Q349 853.5 354 853.2 Q358 853 360 851.2 M371 847.2 L373.6 850.6" stroke="#333" stroke-width="0.6" fill="none"/><g transform="translate(339.3,848.6) rotate(-42)"><path d="M-4.1 0 L-4.1 3.4 A4.1 2.5 0 0 0 4.1 3.4 L4.1 0 Z" fill="#fafafa" stroke="#333" stroke-width="0.75"/><path d="M-3.89 1.13 A4.1 2.5 0 0 0 3.89 1.13" fill="none" stroke="#666" stroke-width="0.55"/><path d="M-3.89 2.27 A4.1 2.5 0 0 0 3.89 2.27" fill="none" stroke="#666" stroke-width="0.55"/><ellipse cx="0" cy="0" rx="4.1" ry="2.5" fill="#f2f2f2" stroke="#777" stroke-width="0.6"/></g><g transform="translate(366.5,849.2) rotate(-42)"><path d="M-4.3 0 L-4.3 3.2 A4.3 1.1 0 0 0 4.3 3.2 L4.3 0 Z" fill="#fafafa" stroke="#333" stroke-width="0.75"/><path d="M-4.08 0.80 A4.3 1.1 0 0 0 4.08 0.80" fill="none" stroke="#666" stroke-width="0.55"/><path d="M-4.08 1.60 A4.3 1.1 0 0 0 4.08 1.60" fill="none" stroke="#666" stroke-width="0.55"/><path d="M-4.08 2.40 A4.3 1.1 0 0 0 4.08 2.40" fill="none" stroke="#666" stroke-width="0.55"/><ellipse cx="0" cy="0" rx="4.3" ry="1.1" fill="#f2f2f2" stroke="#777" stroke-width="0.6"/></g></g>
</svg></body></html>
